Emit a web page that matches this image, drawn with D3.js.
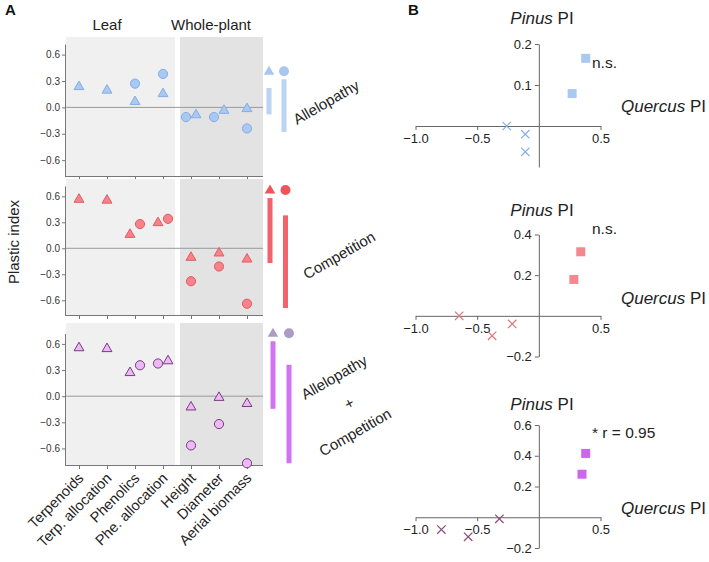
<!DOCTYPE html>
<html><head><meta charset="utf-8">
<script src="https://cdn.jsdelivr.net/npm/d3@7"></script>
<style>
html,body{margin:0;padding:0;background:#fff;}
svg{display:block;font-family:"Liberation Sans",Arial,sans-serif;}
</style></head>
<body><svg id="c" width="709" height="562"></svg>
<script>
// ---------- DATA ----------
const categories = ["Terpenoids","Terp. allocation","Phenolics","Phe. allocation","Height","Diameter","Aerial biomass"];
const traitGroups = ["Leaf","Whole-plant"];
const treatments = ["Allelopathy","Competition","Allelopathy + Competition"];
// Panel A: plastic index per trait (triangles = Pinus, circles = Quercus)
const pinusAllelopathy   = [0.24, 0.20, 0.07, 0.16, -0.08, -0.03, -0.01];
const quercusAllelopathy = [null, null, 0.27, 0.38, -0.11, -0.11, -0.24];
const pinusCompetition   = [0.57, 0.56, 0.165, 0.30, -0.10, -0.05, -0.12];
const quercusCompetition = [null, null, 0.28, 0.34, -0.38, -0.21, -0.64];
const pinusBoth          = [0.56, 0.55, 0.275, 0.41, -0.12, -0.01, -0.08];
const quercusBoth        = [null, null, 0.355, 0.375, -0.565, -0.32, -0.77];
// Panel A right: range bars [min, max]
const pinusRange   = [[-0.08, 0.22], [-0.17, 0.58], [-0.145, 0.63]];
const quercusRange = [[-0.28, 0.32], [-0.69, 0.38], [-0.77, 0.36]];
const yTicksA = [-0.6, -0.3, 0.0, 0.3, 0.6];
// Panel B: Quercus PI (x) vs Pinus PI (y); squares = leaf, crosses = whole-plant
const leafQuercusB  = [[0.38, 0.27], [0.34, 0.284], [0.38, 0.35]];
const leafPinusB    = [[0.165, 0.079], [0.315, 0.179], [0.415, 0.28]];
const wholeQuercusB = [[-0.26, -0.11, -0.11], [-0.646, -0.379, -0.216], [-0.79, -0.573, -0.32]];
const wholePinusB   = [[0.0, -0.02, -0.063], [0.0, -0.098, -0.04], [-0.08, -0.127, -0.01]];
const statLabels = ["n.s.", "n.s.", "* r = 0.95"];
const xTicksB = [-1.0, -0.5, 0.5];
const yTicksB = [[0.1, 0.2], [-0.2, 0.2, 0.4], [-0.2, 0.2, 0.4, 0.6]];

// ---------- STYLE / LAYOUT ----------
const svg = d3.select("#c");
const pinusA = [pinusAllelopathy, pinusCompetition, pinusBoth];
const quercusA = [quercusAllelopathy, quercusCompetition, quercusBoth];
const panelA = [
  {domain:[-0.78,0.8], range:[176,37], fill:"#a9c8f2", stroke:"#86ade6", bar:"#bcd4f3", legFill:"#a8c6ef", legX:[269,284]},
  {domain:[-0.77,0.8], range:[315,179], fill:"#f4848a", stroke:"#e45a64", bar:"#f4626b", legFill:"#f0525a", legX:[270,285.5]},
  {domain:[-0.79,0.84], range:[465,323], fill:"#ecb8f5", stroke:"#7a3c80", bar:"#d172f0", legFill:"#ab9cc6", legX:[273,289]}
];
const xA = d3.scalePoint().domain(categories).range([65,261]).padding(0.5);
const plotL = 65, plotR = 263, gapL = 175, gapR = 180;
const tri = d3.symbol(d3.symbolTriangle).size(42);
const triLeg = d3.symbol(d3.symbolTriangle).size(48);

svg.append("text").attr("x",5).attr("y",15).attr("font-size",15).attr("font-weight","bold").attr("fill","#111").text("A");
svg.append("text").attr("x",408).attr("y",15).attr("font-size",15).attr("font-weight","bold").attr("fill","#111").text("B");
svg.append("text").attr("x",107).attr("y",30).attr("text-anchor","middle").attr("font-size",15).attr("fill","#222").text(traitGroups[0]);
svg.append("text").attr("x",211).attr("y",30).attr("text-anchor","middle").attr("font-size",15).attr("fill","#222").text(traitGroups[1]);
svg.append("text").attr("transform","translate(19,242) rotate(-90)").attr("text-anchor","middle").attr("font-size",15).attr("fill","#222").text("Plastic index");

panelA.forEach((p, k) => {
  const y = d3.scaleLinear().domain(p.domain).range(p.range);
  const g = svg.append("g");
  const top = p.range[1], bot = p.range[0];
  g.append("rect").attr("x",plotL+1).attr("y",top).attr("width",gapL-plotL-1).attr("height",bot-top).attr("fill","#f0f0f0");
  g.append("rect").attr("x",gapR).attr("y",top).attr("width",plotR-gapR).attr("height",bot-top).attr("fill","#e3e3e3");
  // zero line
  g.append("line").attr("x1",plotL).attr("x2",plotR).attr("y1",y(0)).attr("y2",y(0)).attr("stroke","#999").attr("stroke-width",1);
  // y axis
  const yAx = y.copy().domain([p.domain[0],0.72]).range([y(p.domain[0]), y(0.72)]);
  const ya = g.append("g").attr("transform",`translate(${plotL},0)`)
    .call(d3.axisLeft(yAx).tickValues(yTicksA).tickFormat(d3.format(".1f")).tickSize(3).tickSizeOuter(0).tickPadding(2));
  ya.select(".domain").attr("stroke","#777");
  ya.selectAll(".tick line").attr("stroke","#777");
  ya.selectAll("text").attr("font-size",10).attr("fill","#333").attr("font-family","Liberation Sans, Arial, sans-serif");
  // x axis
  const xa = g.append("g").attr("transform",`translate(0,${bot})`)
    .call(d3.axisBottom(xA).tickSize(4).tickSizeOuter(0).tickFormat(k===2 ? (d=>d) : ""));
  xa.select(".domain").attr("stroke","#777").attr("d",`M${plotL},0.5H${plotR}`);
  xa.selectAll(".tick line").attr("stroke","#777");
  if (k === 2) {
    xa.selectAll("text").attr("font-size",14.5).attr("fill","#222").attr("font-family","Liberation Sans, Arial, sans-serif")
      .attr("text-anchor","end").attr("dy",0).attr("y",0)
      .attr("transform","translate(5,14) rotate(-45)");
  }
  // dodge close pairs
  const pts = [];
  categories.forEach((c,i) => {
    const pv = pinusA[k][i], qv = quercusA[k][i];
    let dp = 0, dq = 0;
    if (pv != null && qv != null && Math.abs(pv-qv) < 0.14) {
      if (pv < qv) { dp = -5; dq = 5; } else { dp = 5; dq = -5; }
    }
    if (pv != null) pts.push({c, v:pv, sp:"P", dx:dp});
    if (qv != null) pts.push({c, v:qv, sp:"Q", dx:dq});
  });
  g.selectAll("path.tri").data(pts.filter(d=>d.sp==="P")).join("path").attr("class","tri")
    .attr("d",tri).attr("transform",d=>`translate(${xA(d.c)+d.dx},${y(d.v)+0.5})`)
    .attr("fill",p.fill).attr("stroke",p.stroke).attr("stroke-width",1);
  g.selectAll("circle.q").data(pts.filter(d=>d.sp==="Q")).join("circle").attr("class","q")
    .attr("cx",d=>xA(d.c)+d.dx).attr("cy",d=>y(d.v)).attr("r",4.6)
    .attr("fill",p.fill).attr("stroke",p.stroke).attr("stroke-width",1);
  // range bars legend
  const bx = p.legX;
  const ranges = [pinusRange[k], quercusRange[k]];
  g.selectAll("rect.bar").data(ranges).join("rect").attr("class","bar")
    .attr("x",(d,i)=>bx[i]-2.5).attr("width",5)
    .attr("y",d=>y(d[1])).attr("height",d=>y(d[0])-y(d[1]))
    .attr("fill",p.bar);
  const legY = Math.min(y(ranges[0][1]), y(ranges[1][1])) - 8;
  g.append("path").attr("d",triLeg).attr("transform",`translate(${bx[0]},${legY+0.5})`).attr("fill",p.legFill);
  g.append("circle").attr("cx",bx[1]).attr("cy",legY).attr("r",5).attr("fill",p.legFill);
});

// treatment labels
function rotLabel(x, y, t) {
  svg.append("text").attr("transform",`translate(${x},${y}) rotate(-30)`).attr("text-anchor","middle")
    .attr("dominant-baseline","central").attr("font-size",15).attr("fill","#222").text(t);
}
rotLabel(326, 102, treatments[0]);
rotLabel(339, 255, treatments[1]);
const bothParts = treatments[2].split(" ");
rotLabel(334, 377, bothParts[0]);
rotLabel(349, 403, bothParts[1]);
rotLabel(355, 432, bothParts[2]);

// ---------- PANEL B ----------
const xB = d3.scaleLinear().domain([-1, 0.5]).range([415.5, 600.5]);
const panelB = [
  {domain:[-0.1,0.2], range:[167,44], sq:"#a9c8f2", cr:"#86ade6", title:18, qy:106, stat:[592,68]},
  {domain:[-0.2,0.4], range:[356.5,234.5], sq:"#f3898f", cr:"#e0737c", title:210, qy:298, stat:[592,234]},
  {domain:[-0.2,0.6], range:[548,425], sq:"#cc66ee", cr:"#8a4a7c", title:404, qy:508, stat:[592,438]}
];
panelB.forEach((p, k) => {
  const y = d3.scaleLinear().domain(p.domain).range(p.range);
  const g = svg.append("g");
  const xa = g.append("g").attr("transform",`translate(0,${y(0)})`)
    .call(d3.axisBottom(xB).tickValues(xTicksB).tickFormat(d3.format(".1f")).tickSize(4).tickSizeOuter(0).tickPadding(4));
  xa.select(".domain").attr("stroke","#666");
  xa.selectAll(".tick line").attr("stroke","#666");
  xa.selectAll("text").attr("font-size",13).attr("fill","#222").attr("font-family","Liberation Sans, Arial, sans-serif");
  const ya = g.append("g").attr("transform",`translate(${xB(0)},0)`)
    .call(d3.axisLeft(y).tickValues(yTicksB[k]).tickFormat(d3.format(".1f")).tickSize(4).tickSizeOuter(0).tickPadding(3));
  ya.select(".domain").attr("stroke","#666");
  ya.selectAll(".tick line").attr("stroke","#666");
  ya.selectAll("text").attr("font-size",13).attr("fill","#222").attr("font-family","Liberation Sans, Arial, sans-serif");
  // titles
  const t = g.append("text").attr("x",542).attr("y",p.title).attr("text-anchor","middle").attr("dominant-baseline","central")
    .attr("font-size",17).attr("fill","#222");
  t.append("tspan").attr("font-style","italic").text("Pinus");
  t.append("tspan").text(" PI");
  const q = g.append("text").attr("x",706).attr("y",p.qy).attr("text-anchor","end").attr("dominant-baseline","central")
    .attr("font-size",17).attr("fill","#222");
  q.append("tspan").attr("font-style","italic").text("Quercus");
  q.append("tspan").text(" PI");
  g.append("text").attr("x",p.stat[0]).attr("y",p.stat[1]).attr("font-size",15.5).attr("fill","#222").text(statLabels[k]);
  // squares
  const sqs = leafQuercusB[k].map((xv,i)=>({x:xv, y:leafPinusB[k][i]}));
  g.selectAll("rect.sq").data(sqs).join("rect").attr("class","sq")
    .attr("x",d=>xB(d.x)-4.5).attr("y",d=>y(d.y)-4.5).attr("width",9).attr("height",9).attr("fill",p.sq);
  const crs = wholeQuercusB[k].map((xv,i)=>({x:xv, y:wholePinusB[k][i]}));
  g.selectAll("path.cr").data(crs).join("path").attr("class","cr")
    .attr("d",d=>{const cx=xB(d.x), cy=y(d.y), s=4.2; return `M${cx-s},${cy-s}L${cx+s},${cy+s}M${cx-s},${cy+s}L${cx+s},${cy-s}`;})
    .attr("stroke",p.cr).attr("stroke-width",1.2).attr("fill","none");
});
</script></body></html>
